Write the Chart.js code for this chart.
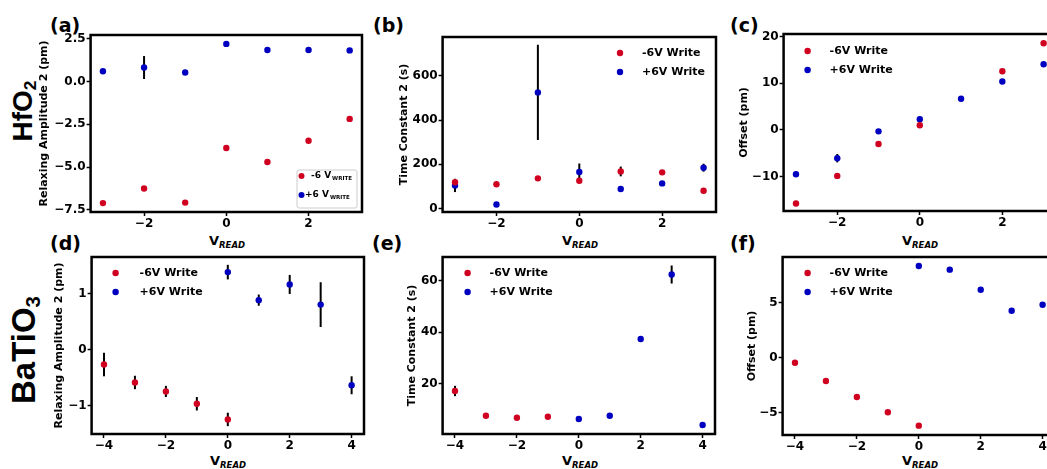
<!DOCTYPE html>
<html>
<head>
<meta charset="utf-8">
<script src="https://cdn.jsdelivr.net/npm/chart.js@4.4.0/dist/chart.umd.min.js"></script>
<style>
  html, body { margin: 0; padding: 0; background: #fff; }
  body { width: 1047px; height: 469px; position: relative; overflow: hidden; font-family: "DejaVu Sans", sans-serif; }
  canvas { position: absolute; }
  .lbl { position: absolute; font-weight: bold; line-height: 1; white-space: nowrap; color: #000; }
  .panel { font-size: 19px; }
  .vread { font-size: 13px; transform: translateX(-50%); }
  .vread sub { font-size: 8.5px; font-style: italic; vertical-align: -3px; }
  .row { font-family: "Liberation Sans", Arial, sans-serif; transform: translate(-50%, -50%) rotate(-90deg); }
  .row sub { font-size: 0.62em; vertical-align: -0.25em; }
</style>
</head>
<body>
<div class="lbl row" style="left:24px; top:111px; font-size:28px;">HfO<sub>2</sub></div>
<div class="lbl row" style="left:25px; top:350px; font-size:33px;">BaTiO<sub>3</sub></div>

<div class="lbl panel" style="left:50px; top:16px;">(a)</div>
<div class="lbl panel" style="left:373px; top:16px;">(b)</div>
<div class="lbl panel" style="left:730px; top:16px;">(c)</div>
<div class="lbl panel" style="left:50px; top:233.5px;">(d)</div>
<div class="lbl panel" style="left:372px; top:233.5px;">(e)</div>
<div class="lbl panel" style="left:730px; top:233.5px;">(f)</div>

<div class="lbl vread" style="left:227px; top:233.5px;">V<sub>READ</sub></div>
<div class="lbl vread" style="left:580px; top:233.5px;">V<sub>READ</sub></div>
<div class="lbl vread" style="left:920px; top:233.5px;">V<sub>READ</sub></div>
<div class="lbl vread" style="left:228px; top:453.5px;">V<sub>READ</sub></div>
<div class="lbl vread" style="left:580px; top:453.5px;">V<sub>READ</sub></div>
<div class="lbl vread" style="left:920px; top:453.5px;">V<sub>READ</sub></div>

<script>
// V_READ positions
const vReadHf = [-3, -2, -1, 0, 1, 2, 3];
const vReadHfOffsetRed = [-3, -2, -1, 0, 2, 3];
const vReadBtNeg = [-4, -3, -2, -1, 0];
const vReadBtTauNeg = [-4, -3, -2, -1];
const vReadBtPos = [0, 1, 2, 3, 4];

// HfO2 (a) relaxing amplitude 2 (pm)
const ampHfRed = [-7.1, -6.25, -7.07, -3.88, -4.7, -3.46, -2.18];
const ampHfRedErr = [0, 0, 0, 0, 0, 0, 0];
const ampHfBlue = [0.6, 0.82, 0.53, 2.2, 1.84, 1.84, 1.82];
const ampHfBlueErr = [0, 0.67, 0, 0, 0, 0, 0];

// HfO2 (b) time constant 2 (s)
const tauHfRed = [119, 110, 137, 126, 168, 164, 81];
const tauHfRedErr = [15, 0, 0, 0, 22, 0, 0];
const tauHfBlue = [105, 19, 525, 166, 89, 114, 185];
const tauHfBlueErr = [30, 0, 215, 38, 0, 0, 18];

// HfO2 (c) offset (pm)
const offHfRed = [-15.8, -9.86, -3.0, 1.0, 12.6, 18.6];
const offHfBlue = [-9.5, -6.06, -0.3, 2.3, 6.7, 10.4, 14.1];
const offHfBlueErr = [0, 0.9, 0, 0, 0, 0, 0];

// BaTiO3 (d) relaxing amplitude 2 (pm)
const ampBtRed = [-0.26, -0.58, -0.74, -0.96, -1.24];
const ampBtRedErr = [0.21, 0.12, 0.1, 0.12, 0.12];
const ampBtBlue = [1.39, 0.89, 1.17, 0.81, -0.63];
const ampBtBlueErr = [0.13, 0.1, 0.17, 0.4, 0.16];

// BaTiO3 (e) time constant 2 (s)
const tauBtRed = [17.2, 7.6, 6.8, 7.2];
const tauBtRedErr = [2, 0, 0, 0];
const tauBtBlue = [6.3, 7.6, 37.4, 62.4, 4.0];
const tauBtBlueErr = [0, 0, 0, 3.5, 0];

// BaTiO3 (f) offset (pm)
const offBtRed = [-0.45, -2.1, -3.55, -4.94, -6.15];
const offBtBlue = [8.34, 8.0, 6.18, 4.27, 4.82];

// tick labels
const xTicksHf = [-2, 0, 2];
const xTicksBt = [-4, -2, 0, 2, 4];
const yTicksA = [-7.5, -5, -2.5, 0, 2.5];
const yTicksB = [0, 200, 400, 600];
const yTicksC = [-10, 0, 10, 20];
const yTicksD = [-1, 0, 1];
const yTicksE = [20, 40, 60];
const yTicksF = [-5, 0, 5];

const RED = "#d00020";
const BLUE = "#0000c0";
const FONT = "DejaVu Sans";

function fmt(dec) {
  return (v) => Number(v).toFixed(dec).replace("-", "\u2212");
}

// frame around the plot area
const framePlugin = {
  id: "frame",
  afterDraw(chart) {
    const a = chart.chartArea, ctx = chart.ctx;
    ctx.save();
    ctx.strokeStyle = "#000";
    ctx.lineWidth = 2.5;
    ctx.strokeRect(a.left, a.top, a.right - a.left, a.bottom - a.top);
    ctx.restore();
  },
};

// vertical error bars from dataset.err
const errorPlugin = {
  id: "errorBars",
  beforeDatasetsDraw(chart) {
    const ctx = chart.ctx, xs = chart.scales.x, ys = chart.scales.y;
    ctx.save();
    ctx.strokeStyle = "#000";
    ctx.lineWidth = 2;
    chart.data.datasets.forEach((ds) => {
      (ds.err || []).forEach((e, i) => {
        if (!e) return;
        const p = ds.data[i];
        const px = xs.getPixelForValue(p.x);
        ctx.beginPath();
        ctx.moveTo(px, ys.getPixelForValue(p.y - e));
        ctx.lineTo(px, ys.getPixelForValue(p.y + e));
        ctx.stroke();
      });
    });
    ctx.restore();
  },
};

// simple dot legend (left or right anchored)
function dotLegend(dx, dy, textDx, fromRight) {
  return {
    id: "dotLegend",
    afterDraw(chart) {
      const a = chart.chartArea, ctx = chart.ctx;
      const x0 = fromRight ? a.right - dx : a.left + dx;
      ctx.save();
      ctx.font = "bold 11px " + FONT;
      ctx.textBaseline = "middle";
      ctx.fillStyle = "#000";
      [["-6V Write", RED], ["+6V Write", BLUE]].forEach((it, i) => {
        const y = a.top + dy + i * 19;
        ctx.beginPath();
        ctx.arc(x0, y, 3.2, 0, Math.PI * 2);
        ctx.fillStyle = it[1];
        ctx.fill();
        ctx.fillStyle = "#000";
        ctx.fillText(it[0], x0 + textDx, y);
      });
      ctx.restore();
    },
  };
}

// boxed legend for panel (a) with subscript
const boxLegend = {
  id: "boxLegend",
  afterDraw(chart) {
    const a = chart.chartArea, ctx = chart.ctx;
    const bx = a.right - 65, by = a.bottom - 42;
    ctx.save();
    ctx.fillStyle = "rgba(255,255,255,0.85)";
    ctx.strokeStyle = "#cccccc";
    ctx.lineWidth = 1;
    ctx.beginPath();
    ctx.roundRect(bx, by, 60, 38, 2);
    ctx.fill();
    ctx.stroke();
    [["-6 V", RED, 14, 6], ["+6 V", BLUE, 8, 25]].forEach((it) => {
      const y = by + it[3];
      ctx.beginPath();
      ctx.arc(bx + 4.5, y, 3, 0, Math.PI * 2);
      ctx.fillStyle = it[1];
      ctx.fill();
      ctx.fillStyle = "#000";
      ctx.textBaseline = "middle";
      ctx.font = "bold 9px " + FONT;
      ctx.fillText(it[0], bx + it[2], y);
      const w = ctx.measureText(it[0]).width;
      ctx.font = "bold 5.5px " + FONT;
      ctx.fillText("WRITE", bx + it[2] + w + 1, y + 3);
    });
    ctx.restore();
  },
};

function makePanel(box, yTitle, xr, yr, xTicks, yTicks, yDec, series, legendPlugin) {
  const T = 10, R = 10, B = 25;
  const W = box.l - box.titleX + 6.6;
  const cv = document.createElement("canvas");
  cv.width = W + (box.r - box.l) + R;
  cv.height = T + (box.b - box.t) + B;
  cv.style.left = (box.l - W) + "px";
  cv.style.top = (box.t - T) + "px";
  document.body.appendChild(cv);

  const tickFont = { family: FONT, size: 12, weight: "bold" };
  const grid = { display: true, drawOnChartArea: false, drawTicks: true, tickLength: 4, tickWidth: 1.5, tickColor: "#000" };

  new Chart(cv, {
    type: "scatter",
    data: {
      datasets: series.map((s) => ({
        data: s.x.map((x, i) => ({ x: x, y: s.y[i] })),
        err: s.err,
        backgroundColor: s.color,
        borderColor: s.color,
        pointRadius: 3.2,
        pointHoverRadius: 3.2,
        pointBorderWidth: 0,
      })),
    },
    options: {
      responsive: false,
      animation: false,
      devicePixelRatio: 1,
      events: [],
      layout: { padding: { left: 0, top: T, right: R, bottom: 0 } },
      plugins: { legend: { display: false }, tooltip: { enabled: false } },
      scales: {
        x: {
          type: "linear",
          bounds: "data",
          min: xr[0],
          max: xr[1],
          afterBuildTicks: (s) => { s.ticks = xTicks.map((v) => ({ value: v })); },
          afterFit: (s) => { s.height = B; },
          ticks: { font: tickFont, color: "#000", padding: 1, maxRotation: 0, autoSkip: false, callback: fmt(0) },
          grid: grid,
          border: { display: false },
        },
        y: {
          type: "linear",
          bounds: "data",
          min: yr[0],
          max: yr[1],
          afterBuildTicks: (s) => { s.ticks = yTicks.map((v) => ({ value: v })); },
          afterFit: (s) => { s.width = W; },
          ticks: { font: tickFont, color: "#000", padding: 1, autoSkip: false, callback: fmt(yDec) },
          grid: grid,
          border: { display: false },
          title: { display: true, text: yTitle, color: "#000", padding: 0, font: { family: FONT, size: 11, weight: "bold" } },
        },
      },
    },
    plugins: [errorPlugin, framePlugin, legendPlugin],
  });
}

// (a)
makePanel({ l: 91, t: 35, r: 363, b: 212, titleX: 45 }, "Relaxing Amplitude 2 (pm)",
  [-3.3, 3.3], [-7.62, 2.72], xTicksHf, yTicksA, 1,
  [{ x: vReadHf, y: ampHfRed, err: ampHfRedErr, color: RED },
   { x: vReadHf, y: ampHfBlue, err: ampHfBlueErr, color: BLUE }], boxLegend);

// (b)
makePanel({ l: 443, t: 37, r: 717, b: 212, titleX: 405 }, "Time Constant 2 (s)",
  [-3.3, 3.3], [-15, 775], xTicksHf, yTicksB, 0,
  [{ x: vReadHf, y: tauHfRed, err: tauHfRedErr, color: RED },
   { x: vReadHf, y: tauHfBlue, err: tauHfBlueErr, color: BLUE }], dotLegend(96, 16, 22, true));

// (c)
makePanel({ l: 784, t: 34, r: 1057, b: 211, titleX: 745 }, "Offset (pm)",
  [-3.3, 3.3], [-17.4, 20.6], xTicksHf, yTicksC, 0,
  [{ x: vReadHfOffsetRed, y: offHfRed, color: RED },
   { x: vReadHf, y: offHfBlue, err: offHfBlueErr, color: BLUE }], dotLegend(24, 17, 22, false));

// (d)
makePanel({ l: 92, t: 257, r: 365, b: 434, titleX: 60 }, "Relaxing Amplitude 2 (pm)",
  [-4.4, 4.4], [-1.5, 1.66], xTicksBt, yTicksD, 0,
  [{ x: vReadBtNeg, y: ampBtRed, err: ampBtRedErr, color: RED },
   { x: vReadBtPos, y: ampBtBlue, err: ampBtBlueErr, color: BLUE }], dotLegend(24, 16, 24, false));

// (e)
makePanel({ l: 443, t: 257, r: 716, b: 434, titleX: 413 }, "Time Constant 2 (s)",
  [-4.4, 4.4], [0.5, 69.2], xTicksBt, yTicksE, 0,
  [{ x: vReadBtTauNeg, y: tauBtRed, err: tauBtRedErr, color: RED },
   { x: vReadBtPos, y: tauBtBlue, err: tauBtBlueErr, color: BLUE }], dotLegend(25, 16, 22, false));

// (f)
makePanel({ l: 783, t: 257, r: 1056, b: 435, titleX: 753 }, "Offset (pm)",
  [-4.4, 4.4], [-7.0, 9.15], xTicksBt, yTicksF, 0,
  [{ x: vReadBtNeg, y: offBtRed, color: RED },
   { x: vReadBtPos, y: offBtBlue, color: BLUE }], dotLegend(25, 16, 22, false));
</script>
</body>
</html>
